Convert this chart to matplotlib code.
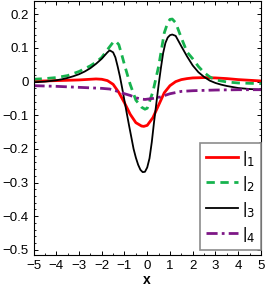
import matplotlib
matplotlib.use("Agg")
import matplotlib.pyplot as plt
from matplotlib.ticker import MultipleLocator

plt.rcParams['font.family'] = ['Liberation Sans', 'DejaVu Sans']

# curve 1 (red)
x1 = [-5, -4.5, -4, -3.5, -3, -2.5, -2.25, -2, -1.75, -1.5, -1.25, -1.0, -0.75,
      -0.5, -0.25, -0.15, 0, 0.25, 0.5, 0.75, 1.0, 1.25, 1.5, 1.75, 2, 2.5, 3,
      3.5, 4, 4.5, 5]
l1 = [0.001, 0.002, 0.003, 0.004, 0.005, 0.007, 0.008, 0.007, 0.003, -0.008,
      -0.032, -0.063, -0.097, -0.122, -0.132, -0.133, -0.13, -0.107, -0.07,
      -0.033, -0.012, 0.0, 0.006, 0.009, 0.011, 0.012, 0.011, 0.009, 0.006,
      0.004, 0.002]

# curve 2 (green dashed)
x2 = [-5, -4.5, -4, -3.5, -3, -2.5, -2.25, -2, -1.75, -1.5, -1.4, -1.25, -1.1,
      -1.0, -0.75, -0.5, -0.25, -0.1, 0, 0.25, 0.5, 0.75, 0.9, 1.0, 1.1, 1.25,
      1.5, 1.75, 2, 2.25, 2.5, 2.75, 3, 3.5, 4, 4.5, 5]
l2 = [0.007, 0.009, 0.012, 0.018, 0.03, 0.047, 0.058, 0.072, 0.095, 0.117,
      0.121, 0.11, 0.075, 0.05, -0.008, -0.055, -0.076, -0.082, -0.079, -0.03,
      0.045, 0.145, 0.175, 0.185, 0.186, 0.175, 0.13, 0.088, 0.068, 0.045,
      0.027, 0.014, 0.005, -0.001, -0.004, -0.005, -0.006]

# curve 3 (black)
x3 = [-5, -4.75, -4.5, -4.25, -4, -3.75, -3.5, -3.25, -3, -2.75, -2.5, -2.25,
      -2, -1.75, -1.65, -1.5, -1.4, -1.3, -1.2, -1.1, -1.0, -0.9, -0.8, -0.7,
      -0.6, -0.5, -0.4, -0.3, -0.2, -0.1, 0.0, 0.1, 0.2, 0.3, 0.4, 0.5, 0.6,
      0.7, 0.8, 0.9, 1.0, 1.1, 1.25, 1.5, 1.75, 2.0, 2.25, 2.5, 2.75, 3.0,
      3.25, 3.5, 3.75, 4, 4.5, 5]
l3 = [-0.002, -0.001, 0.0, 0.002, 0.004, 0.007, 0.011, 0.016, 0.022, 0.03,
      0.04, 0.053, 0.068, 0.087, 0.093, 0.087, 0.072, 0.045, 0.015, -0.02,
      -0.057, -0.094, -0.13, -0.165, -0.2, -0.226, -0.247, -0.262, -0.269,
      -0.268, -0.255, -0.228, -0.18, -0.12, -0.065, -0.01, 0.04, 0.085, 0.115,
      0.131, 0.138, 0.14, 0.136, 0.105, 0.075, 0.048, 0.028, 0.014, 0.003,
      -0.004, -0.009, -0.013, -0.016, -0.019, -0.022, -0.024]

# curve 4 (purple dash-dot)
x4 = [-5, -4, -3, -2, -1.65, -1.25, -1, -0.75, -0.5, -0.25, -0.1, 0.25, 0.55,
      1.0, 1.5, 2, 3, 4, 5]
l4 = [-0.012, -0.014, -0.017, -0.02, -0.022, -0.03, -0.036, -0.041, -0.048,
      -0.052, -0.053, -0.05, -0.046, -0.036, -0.029, -0.027, -0.025, -0.024,
      -0.024]

xticks = [-5, -4, -3, -2, -1, 0, 1, 2, 3, 4, 5]
yticks = [0.2, 0.1, 0, -0.1, -0.2, -0.3, -0.4, -0.5]
ylabels = ['0.2', '0.1', '0', '\u22120.1', '\u22120.2', '\u22120.3', '\u22120.4', '\u22120.5']
names = ['|$_1$', '|$_2$', '|$_3$', '|$_4$']

fig = plt.figure(figsize=(2.66, 2.90), dpi=100)
ax = fig.add_axes([0.126, 0.121, 0.855, 0.876])

ax.plot(x1, l1, color='#ff0000', lw=2.0, label=names[0])
ax.plot(x2, l2, color='#16b34e', lw=2.0, ls=(0, (3, 2)), label=names[1])
ax.plot(x3, l3, color='black', lw=1.3, label=names[2])
ax.plot(x4, l4, color='#7d1786', lw=2.0, ls=(0, (4, 1.5, 1, 1.5)), label=names[3])

ax.set_xlim(-5, 5)
ax.set_ylim(-0.515, 0.24)
ax.set_xticks(xticks)
ax.set_xticklabels(['\u2212' + str(-t) if t < 0 else str(t) for t in xticks])
ax.set_yticks(yticks)
ax.set_yticklabels(ylabels)
ax.xaxis.set_minor_locator(MultipleLocator(0.5))
ax.yaxis.set_minor_locator(MultipleLocator(0.02))
ax.tick_params(which='both', direction='in', top=True, right=True, labelsize=9.5)
ax.tick_params(which='major', length=3, width=0.7)
ax.tick_params(which='minor', length=1.5, width=0.6)
for s in ax.spines.values():
    s.set_linewidth(0.8)

ax.set_xlabel('x', fontsize=10, fontweight='bold', labelpad=1)

leg = ax.legend(loc='lower right', bbox_to_anchor=(1.0, 0.02), borderaxespad=0,
                fontsize=12, handlelength=1.9, handletextpad=0.25,
                labelspacing=0.38, fancybox=False, framealpha=1,
                borderpad=0.35)
leg.get_frame().set_edgecolor('#8c8c8c')
leg.get_frame().set_linewidth(1.2)

fig.savefig('out.png', dpi=100)
